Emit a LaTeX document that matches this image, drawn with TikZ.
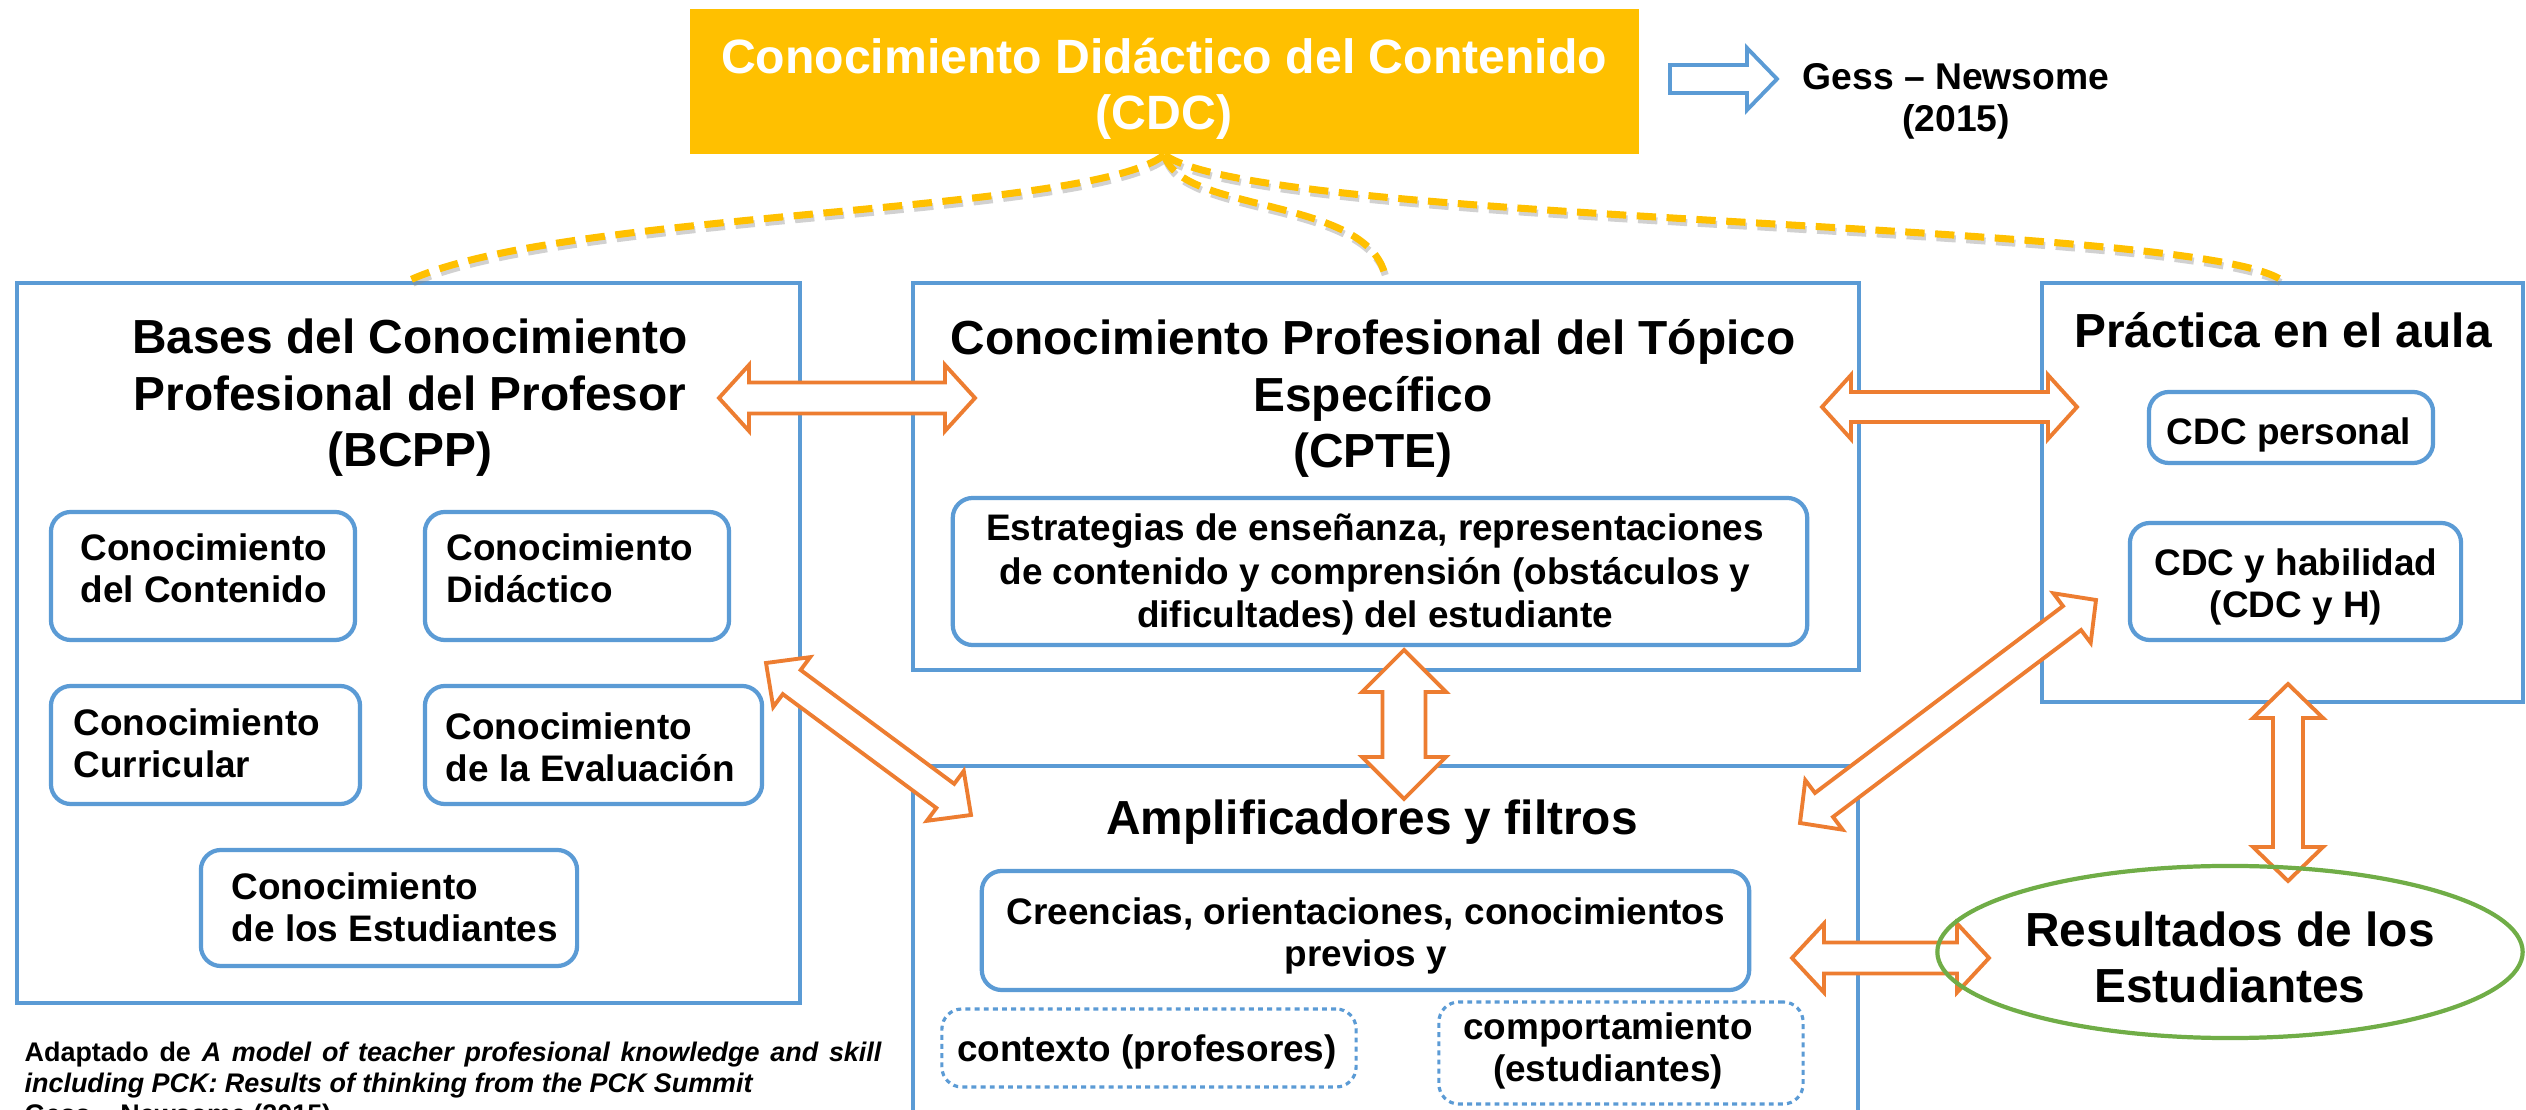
\documentclass[tikz,border=0pt]{standalone}
\usepackage{fontspec}
\setmainfont{Liberation Sans}
\usetikzlibrary{calc,shapes.geometric}
\definecolor{cblue}{RGB}{91,155,213}
\definecolor{corange}{RGB}{237,125,49}
\definecolor{cyellow}{RGB}{255,192,0}
\definecolor{cgreen}{RGB}{112,173,71}
\newcommand\dblarrow[5]{%
  \path ($(#1)!#3!(#2)$) coordinate (ha) ($(#2)!#3!(#1)$) coordinate (hb);
  \draw[oarrow] (#1) -- ($(ha)!#4!90:(#2)$) -- ($(ha)!#5!90:(#2)$) -- ($(hb)!#5!-90:(#1)$) -- ($(hb)!#4!-90:(#1)$) -- (#2) -- ($(hb)!#4!90:(#1)$) -- ($(hb)!#5!90:(#1)$) -- ($(ha)!#5!-90:(#2)$) -- ($(ha)!#4!-90:(#2)$) -- cycle;}
\newcommand\onearrow[5]{%
  \path ($(#2)!#3!(#1)$) coordinate (hb);
  \draw[barrow] ($(#1)!#5!90:(#2)$) -- ($(hb)!#5!-90:(#1)$) -- ($(hb)!#4!-90:(#1)$) -- (#2) -- ($(hb)!#4!90:(#1)$) -- ($(hb)!#5!90:(#1)$) -- ($(#1)!#5!-90:(#2)$) -- cycle;}
\begin{document}
\begin{tikzpicture}[x=0.01cm,y=-0.01cm,
  bigbox/.style={draw=cblue, line width=1.2pt, fill=white, rectangle, inner sep=0pt},
  inbox/.style={draw=cblue, line width=1.2pt, fill=white, rounded corners=0.2cm, rectangle, inner sep=0pt},
  dotbox/.style={draw=cblue, line width=0.9pt, dash pattern=on 1.4pt off 1.2pt, rounded corners=0.2cm, rectangle, inner sep=0pt},
  oarrow/.style={draw=corange, line width=1.1pt, fill=white, line join=miter},
  barrow/.style={draw=cblue, line width=1.1pt, fill=white, line join=miter},
  curve/.style={draw=cyellow, line width=2pt, dash pattern=on 5.5pt off 3pt},
  curvesh/.style={draw=black!45, line width=2pt, dash pattern=on 5.5pt off 3pt, opacity=0.4, transform canvas={shift={(0.4pt,-1.1pt)}}},
  head/.style={font=\fontsize{13.6}{16.2}\selectfont\bfseries, align=center, anchor=base, inner sep=0pt},
  intext/.style={font=\fontsize{10.5}{12.2}\selectfont\bfseries, align=center, anchor=base, inner sep=0pt},
  inleft/.style={font=\fontsize{10.5}{12.2}\selectfont\bfseries, align=left, anchor=base west, inner sep=0pt}]
\useasboundingbox (0,0) rectangle (2526,1110);
\clip (0,0) rectangle (2526,1110);

% CDC box
\node[fill=cyellow, minimum width=9.49cm, minimum height=1.45cm, inner sep=0pt] (cdc) at (1164.5,81.5) {};

% big boxes
\node[bigbox, minimum width=7.83cm, minimum height=7.20cm] (bcpp) at (408.5,643) {};
\node[bigbox, minimum width=9.46cm, minimum height=3.87cm] (cpte) at (1386,476.5) {};
\node[bigbox, minimum width=4.81cm, minimum height=4.19cm] (prac) at (2282.5,492.5) {};
\node[bigbox, minimum width=9.45cm, minimum height=3.74cm] (ampl) at (1385.5,953) {};

% dashed curves
\draw[curvesh] (cdc.south) .. controls (1090,215) and (560,210) .. (bcpp.north);
\draw[curvesh] (cdc.south) .. controls (1180,215) and (1375,195) .. (cpte.north);
\draw[curvesh] (cdc.south) .. controls (1260,225) and (2200,220) .. (prac.north);
\draw[curve] (cdc.south) .. controls (1090,215) and (560,210) .. (bcpp.north);
\draw[curve] (cdc.south) .. controls (1180,215) and (1375,195) .. (cpte.north);
\draw[curve] (cdc.south) .. controls (1260,225) and (2200,220) .. (prac.north);

% (base anchor of a multi-line node = baseline of its last line)
\node[head, text=white, font=\fontsize{13.7}{16.2}\selectfont\bfseries] (cdct) at (1164,130) {Conocimiento Didáctico del Contenido\\(CDC)};

% headings
\node[head] (bcpph) at (410,467) {Bases del Conocimiento\\Profesional del Profesor\\(BCPP)};
\node[head] (cpteh) at (1373,468) {Conocimiento Profesional del Tópico\\Específico\\(CPTE)};
\node[head] (prach) at (2283,348) {Práctica en el aula};
\node[head] (amplh) at (1372,835) {Amplificadores y filtros};

% inner boxes BCPP
\node[inbox, minimum width=3.04cm, minimum height=1.28cm] (b1) at (203,576) {};
\node[inleft] (b1t) at (80,603) {Conocimiento\\del Contenido};
\node[inbox, minimum width=3.04cm, minimum height=1.28cm] (b2) at (577,576) {};
\node[inleft] (b2t) at (446,603) {Conocimiento\\Didáctico};
\node[inbox, minimum width=3.09cm, minimum height=1.18cm] (b3) at (205.5,745) {};
\node[inleft] (b3t) at (73,778) {Conocimiento\\Curricular};
\node[inbox, minimum width=3.37cm, minimum height=1.18cm] (b4) at (593.5,745) {};
\node[inleft] (b4t) at (445,782) {Conocimiento\\de la Evaluación};
\node[inbox, minimum width=3.76cm, minimum height=1.16cm] (b5) at (389,908) {};
\node[inleft] (b5t) at (231,942) {Conocimiento\\de los Estudiantes};

% CPTE inner
\node[inbox, minimum width=8.54cm, minimum height=1.47cm] (c1) at (1380,571.5) {};
\node[intext, font=\fontsize{10.5}{12.5}\selectfont\bfseries] (c1t) at (1375,628) {Estrategias de enseñanza, representaciones\\de contenido y comprensión (obstáculos y\\dificultades) del estudiante};

% Practica inner
\node[inbox, minimum width=2.84cm, minimum height=0.71cm] (p1) at (2291,427.5) {};
\node[intext] (p1t) at (2289,445) {CDC personal};
\node[inbox, minimum width=3.31cm, minimum height=1.17cm] (p2) at (2295.5,581.5) {};
\node[intext] (p2t) at (2296,618) {CDC y habilidad\\(CDC y H)};

% Amplificadores inner
\node[inbox, minimum width=7.67cm, minimum height=1.19cm] (a1) at (1365.5,930.5) {};
\node[intext] (a1t) at (1366,967) {Creencias, orientaciones, conocimientos\\previos y};
\node[dotbox, minimum width=4.14cm, minimum height=0.78cm] (d1) at (1149,1048) {};
\node[intext] (d1t) at (1147,1062) {contexto (profesores)};
\node[dotbox, minimum width=3.64cm, minimum height=1.02cm] (d2) at (1621,1053) {};
\node[intext] (d2t) at (1608,1082) {comportamiento\\(estudiantes)};

% arrow end coordinates
\coordinate (h1a) at (719,398);   \coordinate (h1b) at (975,398);
\coordinate (h2a) at (1822,407);  \coordinate (h2b) at (2077,407);
\coordinate (v1a) at (1404,650);  \coordinate (v1b) at (1404,799);
\coordinate (v2a) at (2288,684);  \coordinate (v2b) at (2288,881);
\coordinate (h3a) at (1792,958);  \coordinate (h3b) at (1989,958);
\coordinate (d1a) at (766,663);   \coordinate (d1b) at (971,815);
\coordinate (d2a) at (1800,823);  \coordinate (d2b) at (2096,600);
\coordinate (ga) at (1670,79);    \coordinate (gb) at (1777,79);

\dblarrow{h1a}{h1b}{0.30cm}{0.33cm}{0.155cm}
\dblarrow{h2a}{h2b}{0.29cm}{0.32cm}{0.15cm}
\dblarrow{v1a}{v1b}{0.42cm}{0.42cm}{0.215cm}
\dblarrow{v2a}{v2b}{0.34cm}{0.35cm}{0.15cm}
\dblarrow{h3a}{h3b}{0.32cm}{0.345cm}{0.155cm}
\dblarrow{d1a}{d1b}{0.32cm}{0.31cm}{0.15cm}
\dblarrow{d2a}{d2b}{0.30cm}{0.31cm}{0.15cm}

% results ellipse
\node[draw=cgreen, line width=1.2pt, ellipse, minimum width=5.85cm, minimum height=1.72cm, inner sep=0pt] (res) at (2230,952) {};
\node[head] (rest) at (2230,1003) {Resultados de los\\Estudiantes};

% Gess arrow
\onearrow{ga}{gb}{0.30cm}{0.31cm}{0.14cm}
\node[head, font=\fontsize{10.6}{12}\selectfont\bfseries] (gesst) at (1956,132) {Gess – Newsome\\(2015)};

% citation
\node[anchor=base west, text width=243.6pt, align=justify, inner sep=0pt, font=\fontsize{7.65}{8.8}\selectfont\bfseries] (cite) at (24,1062) {Adaptado de \textit{A model of teacher profesional knowledge and skill\linebreak including PCK: Results of thinking from the PCK Summit}\newline Gess – Newsome (2015)};
\end{tikzpicture}
\end{document}
